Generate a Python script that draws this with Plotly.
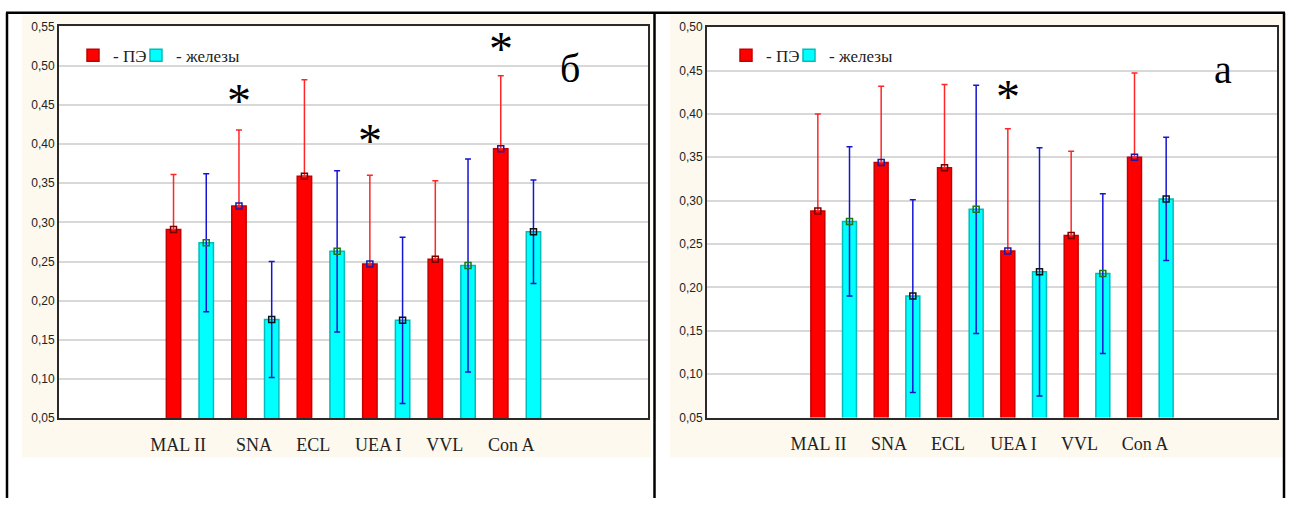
import plotly.graph_objects as go

W, H = 1290, 505

lectins = ["MAL II", "SNA", "ECL", "UEA I", "VVL", "Con A"]
series_names = ["- ПЭ", "- железы"]

# panel "б": means and error half-widths
b_pe = [0.291, 0.321, 0.359, 0.247, 0.253, 0.394]
b_pe_err = [0.070, 0.097, 0.123, 0.113, 0.100, 0.093]
b_gl = [0.274, 0.176, 0.263, 0.175, 0.245, 0.288]
b_gl_err = [0.088, 0.074, 0.103, 0.106, 0.136, 0.066]

# panel "а": means and error half-widths
a_pe = [0.288, 0.344, 0.338, 0.242, 0.260, 0.350]
a_pe_err = [0.112, 0.088, 0.096, 0.141, 0.097, 0.097]
a_gl = [0.276, 0.190, 0.290, 0.218, 0.216, 0.302]
a_gl_err = [0.086, 0.111, 0.143, 0.143, 0.092, 0.071]

# significance marks: (lectin index, height)
b_stars = [(1, 0.455), (3, 0.405), (5, 0.522)]
a_stars = [(3, 0.420)]

# ---- styling ----
RED, RED_EDGE = "#ff0000", "#c40000"
CYAN, CYAN_EDGE = "#00ffff", "#00bcbc"
ERR_RED, ERR_BLUE = "#ff2626", "#1414d2"
PE_MARK = ["#7a0000", "#1a1aa8", "#7a0000", "#1a1aa8", "#7a0000", "#1a1aa8"]
GL_MARK = ["#1a7a1a", "#111111", "#1a7a1a", "#111111", "#1a7a1a", "#111111"]
BEIGE = "#fdf9ee"
SERIF = "Liberation Serif"
SANS = "Liberation Sans"

N_SLOTS = 18
FIRST = 3.5
BAR_W = 0.44

pe_x = [FIRST + 2 * i for i in range(len(lectins))]
gl_x = [FIRST + 1 + 2 * i for i in range(len(lectins))]

# label positions along the axis for each panel
b_label_pos = [3.64, 5.96, 7.77, 9.76, 11.79, 13.82]
a_label_pos = [3.52, 5.75, 7.61, 9.68, 11.76, 13.83]


def px(x):
    return x / W


def py(y):
    return 1 - y / H


fig = go.Figure()


def add_panel(xa, ya, pe, pe_err, gl, gl_err, legends):
    xr = "x" if xa == 1 else f"x{xa}"
    yr = "y" if ya == 1 else f"y{ya}"
    fig.add_trace(go.Bar(
        x=pe_x, y=pe, width=BAR_W, name=series_names[0], xaxis=xr, yaxis=yr,
        marker=dict(color=RED, line=dict(color=RED_EDGE, width=1.5)),
        error_y=dict(type="data", symmetric=False, array=pe_err,
                     arrayminus=[0] * len(pe), color=ERR_RED, thickness=1.5, width=3),
        legend=legends[0],
    ))
    fig.add_trace(go.Bar(
        x=gl_x, y=gl, width=BAR_W, name=series_names[1], xaxis=xr, yaxis=yr,
        marker=dict(color=CYAN, line=dict(color=CYAN_EDGE, width=1.5)),
        error_y=dict(type="data", array=gl_err, color=ERR_BLUE, thickness=1.5, width=3),
        legend=legends[1],
    ))
    fig.add_trace(go.Scatter(
        x=pe_x + gl_x, y=pe + gl, mode="markers", xaxis=xr, yaxis=yr, showlegend=False,
        marker=dict(symbol="square-open", size=6, color=PE_MARK + GL_MARK,
                    line=dict(width=1.5, color=PE_MARK + GL_MARK)),
        hoverinfo="skip",
    ))


add_panel(1, 1, b_pe, b_pe_err, b_gl, b_gl_err, ("legend", "legend3"))
add_panel(2, 2, a_pe, a_pe_err, a_gl, a_gl_err, ("legend2", "legend4"))

# plot area rectangles in pixels: (left, top, right, bottom)
b_box = (59, 20, 648, 423)
a_box = (707, 20.7, 1277, 422.3)


def xdom(box):
    return [px(box[0]), px(box[2])]


def ydom(box):
    return [py(box[3]), py(box[1])]


axis_line = dict(showline=True, linecolor="#2a2a2a", linewidth=2, mirror=True)
xcommon = dict(range=[0, N_SLOTS], showgrid=False, zeroline=False, ticks="",
               ticklabelstandoff=9,
               tickfont=dict(family=SERIF, size=18, color="#222"), **axis_line)
ycommon = dict(dtick=0.05, tickformat=".2f", showgrid=True, gridcolor="#d8d8d8",
               gridwidth=1.5, zeroline=False, ticks="",
               tickfont=dict(family=SANS, size=12, color="#222"), **axis_line)
legend_common = dict(orientation="h", xanchor="left", yanchor="middle",
                     bgcolor="rgba(0,0,0,0)", font=dict(family=SERIF, size=17, color="#222"),
                     itemclick=False)

fig.update_layout(
    width=W, height=H, margin=dict(l=0, r=0, t=0, b=0),
    paper_bgcolor="white", plot_bgcolor="white",
    separators=", ", barmode="overlay", showlegend=True,
    xaxis=dict(domain=xdom(b_box), anchor="y", tickvals=b_label_pos, ticktext=lectins, **xcommon),
    yaxis=dict(domain=ydom(b_box), anchor="x", range=[0.05, 0.55], tick0=0.05, **ycommon),
    xaxis2=dict(domain=xdom(a_box), anchor="y2", tickvals=a_label_pos, ticktext=lectins, **xcommon),
    yaxis2=dict(domain=ydom(a_box), anchor="x2", range=[0.05, 0.50], tick0=0.05, **ycommon),
    yaxis3=dict(overlaying="y", anchor="x", side="right", range=[0.05, 0.55], dtick=0.05, tick0=0.05,
                ticks="inside", ticklen=4, tickcolor="#333", showticklabels=False, showgrid=False,
                zeroline=False),
    yaxis4=dict(overlaying="y2", anchor="x2", side="right", range=[0.05, 0.50], dtick=0.05, tick0=0.05,
                ticks="inside", ticklen=4, tickcolor="#333", showticklabels=False, showgrid=False,
                zeroline=False),
    legend=dict(x=px(73), y=py(50), **legend_common),
    legend3=dict(x=px(136), y=py(50), **legend_common),
    legend2=dict(x=px(726), y=py(50), **legend_common),
    legend4=dict(x=px(789), y=py(50), **legend_common),
)

# background panels, white plot areas and cell borders
shapes = [
    dict(type="rect", xref="paper", yref="paper", x0=px(22), x1=px(651), y0=py(463), y1=py(8),
         fillcolor=BEIGE, line=dict(width=0), layer="below"),
    dict(type="rect", xref="paper", yref="paper", x0=px(670), x1=px(1283), y0=py(463), y1=py(8),
         fillcolor=BEIGE, line=dict(width=0), layer="below"),
]
for box in (b_box, a_box):
    shapes.append(dict(type="rect", xref="paper", yref="paper", x0=px(box[0]), x1=px(box[2]),
                       y0=py(box[3]), y1=py(box[1]), fillcolor="white", line=dict(width=0),
                       layer="below"))
shapes += [
    dict(type="line", xref="paper", yref="paper", x0=px(6), x1=px(1285), y0=py(6), y1=py(6),
         line=dict(color="black", width=2.5)),
    dict(type="line", xref="paper", yref="paper", x0=px(7), x1=px(7), y0=0, y1=py(6),
         line=dict(color="black", width=2.5)),
    dict(type="line", xref="paper", yref="paper", x0=px(654.5), x1=px(654.5), y0=0, y1=py(6),
         line=dict(color="black", width=2.5)),
    dict(type="line", xref="paper", yref="paper", x0=px(1284), x1=px(1284), y0=0, y1=py(6),
         line=dict(color="black", width=2.5)),
]
fig.update_layout(shapes=shapes)

star_font = dict(family=SERIF, size=48, color="black")
annotations = []
for idx, h in b_stars:
    annotations.append(dict(x=pe_x[idx], y=h, xref="x", yref="y", text="*", showarrow=False,
                            font=star_font))
for idx, h in a_stars:
    annotations.append(dict(x=pe_x[idx], y=h, xref="x2", yref="y2", text="*", showarrow=False,
                            font=star_font))
annotations.append(dict(x=px(570), y=py(63), xref="paper", yref="paper", text="б", showarrow=False,
                        xanchor="center", yanchor="middle",
                        font=dict(family=SERIF, size=40, color="black")))
annotations.append(dict(x=px(1223), y=py(64), xref="paper", yref="paper", text="а", showarrow=False,
                        xanchor="center", yanchor="middle",
                        font=dict(family=SERIF, size=40, color="black")))
fig.update_layout(annotations=annotations)

fig.write_html("out.html")
